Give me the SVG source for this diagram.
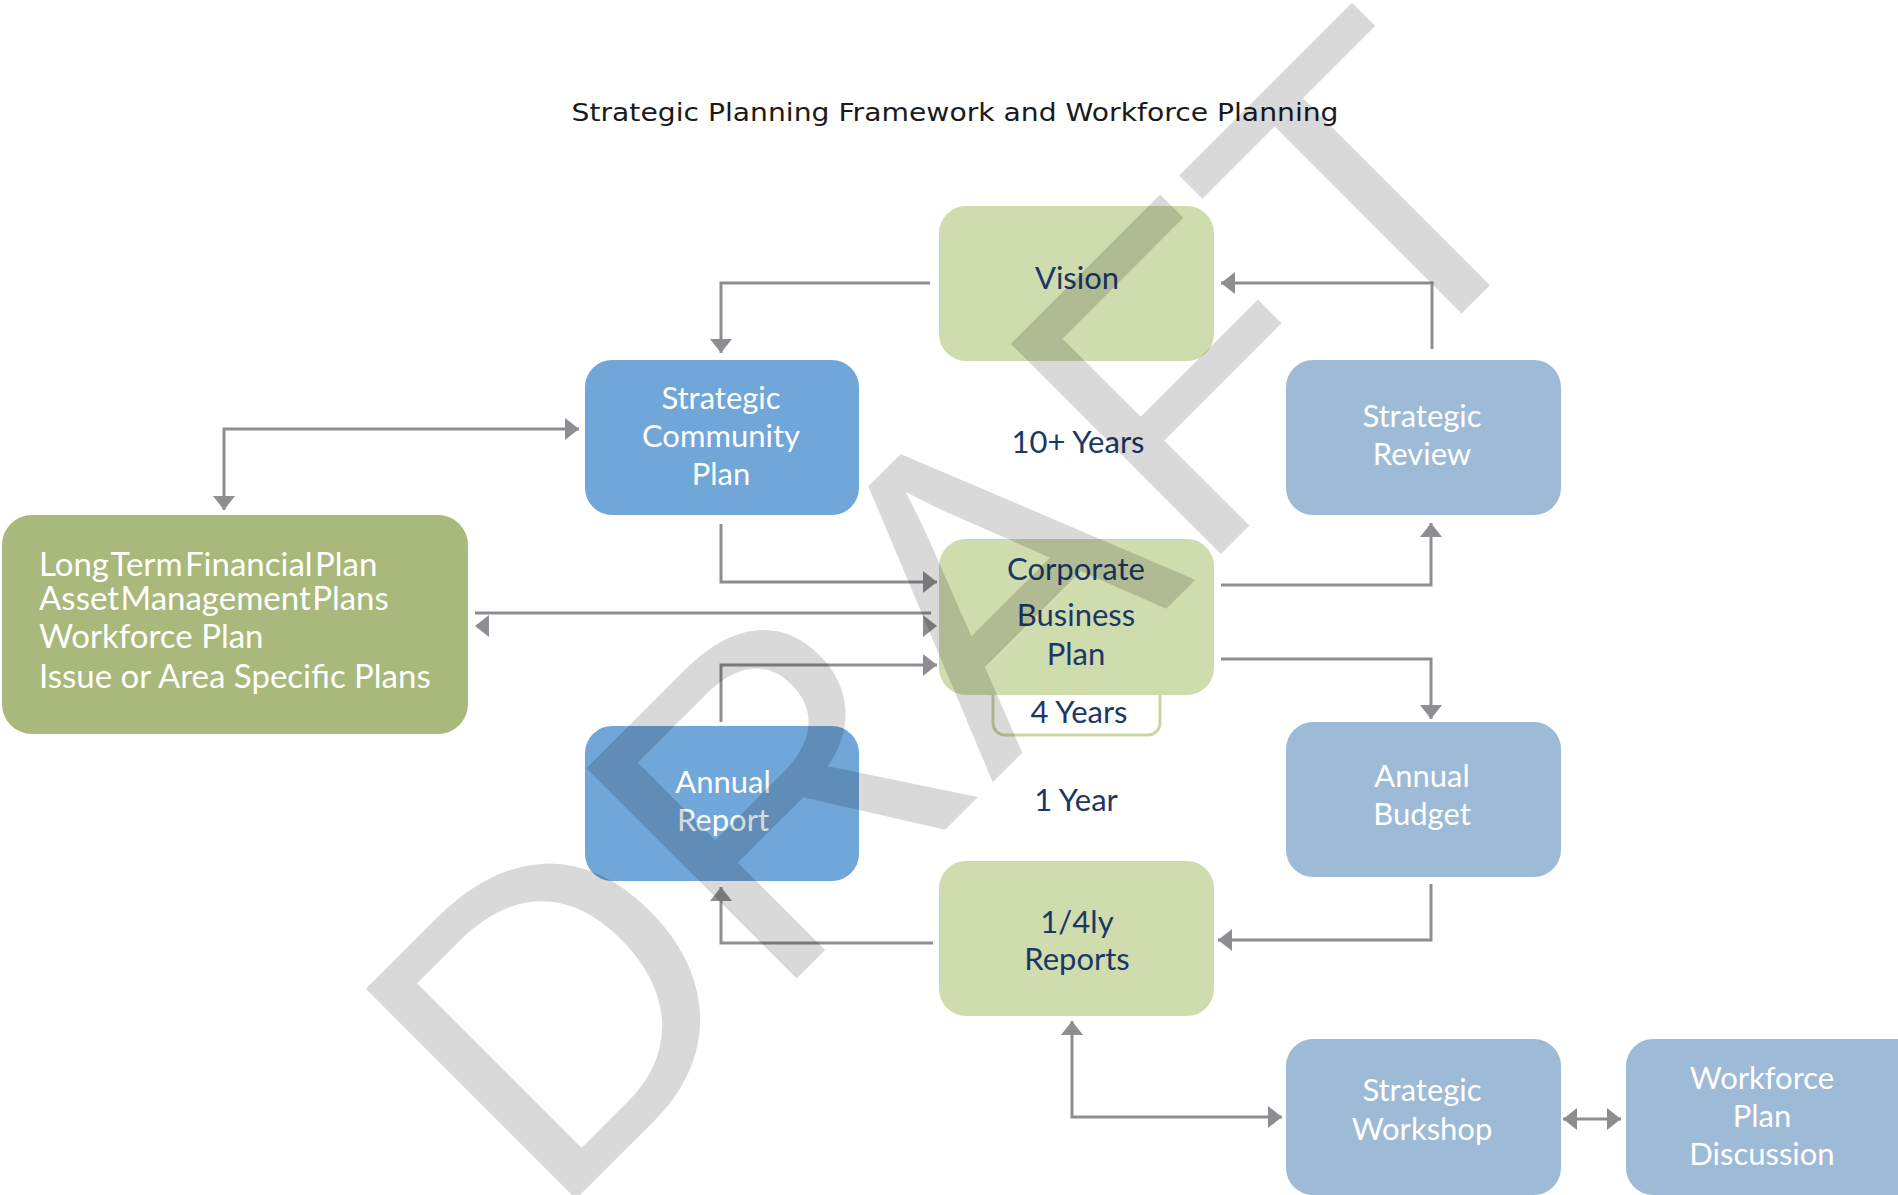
<svg xmlns="http://www.w3.org/2000/svg" width="1898" height="1195" viewBox="0 0 1898 1195">
<defs>
<style>
.lg{fill:#cfdcae}
.bl{fill:#70a6d8}
.sb{fill:#9dbad7}
.ol{fill:#a9b87b}
.t{font-family:Lato,"Open Sans","Liberation Sans",sans-serif;font-size:31px;text-anchor:middle}
.nv{fill:#1c3765}
.wh{fill:#ffffff}
.lt{font-family:Lato,"Open Sans","Liberation Sans",sans-serif;font-size:33px;fill:#ffffff}
.c{fill:none;stroke:#8e8e92;stroke-width:3}
.ah{fill:#8e8e92}
</style>
<marker id="ah" markerUnits="userSpaceOnUse" markerWidth="14" markerHeight="22" refX="14" refY="11" orient="auto-start-reverse"><path d="M0,0 L14,11 L0,22 z" fill="#8e8e92"/></marker>
</defs>
<rect width="1898" height="1195" fill="#ffffff"/>
<text x="955" y="121" font-family="'DejaVu Sans','Liberation Sans',sans-serif" font-size="25" fill="#1a1a1a" text-anchor="middle" textLength="767" lengthAdjust="spacingAndGlyphs">Strategic Planning Framework and Workforce Planning</text>

<g id="connectors">
<path class="c" d="M930,283 H721 V353" marker-end="url(#ah)"/>
<path class="c" d="M1432,349 V283 H1221" marker-end="url(#ah)"/>
<path class="c" d="M224,510 V429 H579" marker-start="url(#ah)" marker-end="url(#ah)"/>
<path class="c" d="M721,524 V582 H937" marker-end="url(#ah)"/>
<path class="c" d="M475,613 H931"/>
<path class="ah" d="M475,626 L489,615 L489,637 z"/>
<path class="ah" d="M937,626 L923,615 L923,637 z"/>
<path class="c" d="M721,722 V665 H937" marker-end="url(#ah)"/>
<path class="c" d="M1221,585 H1431 V523" marker-end="url(#ah)"/>
<path class="c" d="M1221,659 H1431 V719" marker-end="url(#ah)"/>
<path class="c" d="M1431,884 V940 H1218" marker-end="url(#ah)"/>
<path class="c" d="M933,943 H721 V887" marker-end="url(#ah)"/>
<path class="c" d="M1072,1021 V1117 H1282" marker-start="url(#ah)" marker-end="url(#ah)"/>
<path class="c" d="M1563,1119 H1621" marker-start="url(#ah)" marker-end="url(#ah)"/>
</g>

<g id="vision">
<rect class="lg" x="939" y="206" width="275" height="155" rx="27"/>
<text class="t nv" x="1077" y="289">Vision</text>
</g>
<g id="strategic-community-plan">
<rect class="bl" x="585" y="360" width="274" height="155" rx="27"/>
<text class="t wh" x="721" y="409">Strategic</text>
<text class="t wh" x="721" y="447">Community</text>
<text class="t wh" x="721" y="485">Plan</text>
</g>
<g id="label-10-years">
<text class="t nv" x="1078" y="453">10+ Years</text>
</g>
<g id="strategic-review">
<rect class="sb" x="1286" y="360" width="275" height="155" rx="27"/>
<text class="t wh" x="1422" y="427">Strategic</text>
<text class="t wh" x="1422" y="465">Review</text>
</g>
<g id="plans">
<rect class="ol" x="2" y="515" width="466" height="219" rx="30"/>
<text class="lt" x="39" y="576" word-spacing="-6">Long Term Financial Plan</text>
<text class="lt" x="39" y="610" word-spacing="-7">Asset Management Plans</text>
<text class="lt" x="39" y="648">Workforce Plan</text>
<text class="lt" x="39" y="688">Issue or Area Specific Plans</text>
</g>
<g id="label-4-years">
<rect x="993" y="660" width="167" height="75" rx="12" fill="#ffffff" stroke="#c9d8a2" stroke-width="3"/>
<text class="t nv" x="1079" y="723">4 Years</text>
</g>
<g id="corporate-business-plan">
<rect class="lg" x="939" y="539" width="275" height="156" rx="27"/>
<text class="t nv" x="1076" y="580">Corporate</text>
<text class="t nv" x="1076" y="626">Business</text>
<text class="t nv" x="1076" y="665">Plan</text>
</g>
<g id="annual-report">
<rect class="bl" x="585" y="726" width="274" height="155" rx="27"/>
<text class="t wh" x="723" y="793">Annual</text>
<text class="t wh" x="723" y="831">Report</text>
</g>
<g id="label-1-year">
<text class="t nv" x="1076" y="811">1 Year</text>
</g>
<g id="annual-budget">
<rect class="sb" x="1286" y="722" width="275" height="155" rx="27"/>
<text class="t wh" x="1422" y="787">Annual</text>
<text class="t wh" x="1422" y="825">Budget</text>
</g>
<g id="quarterly-reports">
<rect class="lg" x="939" y="861" width="275" height="155" rx="27"/>
<text class="t nv" x="1077" y="933">1/4ly</text>
<text class="t nv" x="1077" y="970">Reports</text>
</g>
<g id="strategic-workshop">
<rect class="sb" x="1286" y="1039" width="275" height="156" rx="27"/>
<text class="t wh" x="1422" y="1101">Strategic</text>
<text class="t wh" x="1422" y="1140">Workshop</text>
</g>
<g id="workforce-plan-discussion">
<rect class="sb" x="1626" y="1039" width="300" height="156" rx="27"/>
<text class="t wh" x="1762" y="1089">Workforce</text>
<text class="t wh" x="1762" y="1127">Plan</text>
<text class="t wh" x="1762" y="1165">Discussion</text>
</g>

<g id="watermark">
<text x="0" y="0" transform="translate(1060,715) rotate(-45)" font-family="'Liberation Sans',Arial,sans-serif" font-size="432" text-anchor="middle" fill="#000000" fill-opacity="0.15">DRAFT</text>
</g>
</svg>
